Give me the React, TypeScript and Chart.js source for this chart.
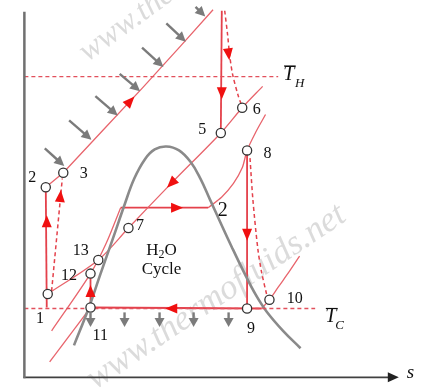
import React, { useEffect, useRef } from "react";
import { Chart, registerables } from "chart.js";

Chart.register(...registerables);

// Schematic T–s diagram (combined gas / H2O cycle). s grows to the right,
// T is plotted on a reversed axis (0 at the top of the frame).
const S_MAX = 429;
const T_MAX = 392;

// H2O saturation dome
const domeS = [70, 85, 97, 110, 122, 132, 143, 153, 165, 178, 190, 200, 210, 220, 232, 245, 257, 268, 285, 303];
const domeT = [350, 312, 277, 240, 205, 178, 158, 148, 145, 149, 161, 178, 200, 222, 248, 275, 298, 315, 335, 353];

// gas cycle
const gasHighS = [41, 59, 100, 140, 180, 213];
const gasHighT = [187, 172, 128, 85, 41, 4];
const gasLowS = [43, 95, 126, 170, 221, 243, 264];
const gasLowT = [297, 262, 229, 183, 131, 105, 83];
const compIsoS = [42, 41];
const compIsoT = [311, 187];
const compActS = [47, 58];
const compActT = [294, 178];
const turbIsoS = [222, 221];
const turbIsoT = [5, 131];
const turbActS = [225, 228, 230, 233, 239, 243];
const turbActT = [5, 30, 50, 70, 93, 104];

// H2O cycle
const hpLiquidS = [47, 87, 103, 118];
const hpLiquidT = [335, 276, 245, 208];
const hpEvapS = [118, 208];
const hpEvapT = [208, 208];
const hpSuperS = [208, 222, 234, 243, 248, 257, 267];
const hpSuperT = [208, 197, 183, 167, 149, 130, 112];
const stTurbIsoS = [248, 248];
const stTurbIsoT = [149, 311];
const stTurbActS = [251, 254, 259, 263, 268];
const stTurbActT = [157, 200, 250, 275, 297];
const lpLiquidS = [45, 87];
const lpLiquidT = [367, 311];
const lpCondS = [87, 263];
const lpCondT = [311, 312];
const lpSuperS = [263, 271, 280, 292, 302];
const lpSuperT = [312, 303, 290, 273, 258];
const pumpS = [87, 87];
const pumpT = [311, 276];

// mean temperatures
const tHighS = [19, 280];
const tHighT = [73, 73];
const tLowS = [19, 318];
const tLowT = [312, 312];

// axes
const axisVS = [19, 19];
const axisVT = [6, 384];
const axisHS = [18, 396];
const axisHT = [383, 383];

// state points
const stateNames = ["1", "2", "3", "5", "6", "7", "8", "9", "10", "11", "12", "13"];
const stateS = [43, 41, 59, 221, 243, 126, 248, 248, 271, 87, 87, 95];
const stateT = [297, 187, 172, 131, 105, 229, 149, 312, 303, 311, 276, 262];
const labelS = [35, 27, 80, 202, 258, 138, 269, 252, 297, 97, 65, 77];
const labelT = [323, 177, 173, 128, 107, 227, 152, 333, 302, 340, 278, 253];

// process direction arrowheads (centre + direction)
const redArrowS = [128, 42, 56, 170, 222, 229, 176, 248, 170, 87];
const redArrowT = [98, 222, 196, 183, 90, 50, 208, 236, 312, 294];
const redDirS = [1, 0, 0.08, -1, 0, 0.12, 1, 0, -1, 0];
const redDirT = [-1.08, -1, -1, 1, 1, 1, 0, 1, 0, -1];

// heat-in arrows (grey, onto the high-pressure gas line)
const heatInFromS = [40, 65, 92, 117, 140, 165, 195];
const heatInFromT = [147, 118, 93, 70, 43, 18, 1];
const heatInToS = [60, 88, 115, 138, 162, 185, 205];
const heatInToT = [165, 138, 113, 88, 63, 37, 11];
// heat-out arrows (grey, down from the condenser)
const heatOutS = [87, 122, 158, 193, 229];
const heatOutTopT = 316;
const heatOutTipT = 331;

const pts = (s: number[], t: number[]) => s.map((v, i) => ({ x: v, y: t[i] }));

const RED = "#e4414b";
const RED_THIN = "#e8646c";
const SERIF = "'Liberation Serif','Times New Roman','DejaVu Serif',serif";

function head(ctx: CanvasRenderingContext2D, x: number, y: number, ang: number, len: number, hw: number) {
  const c = Math.cos(ang), s = Math.sin(ang);
  ctx.beginPath();
  ctx.moveTo(x, y);
  ctx.lineTo(x - len * c + hw * s, y - len * s - hw * c);
  ctx.lineTo(x - len * c - hw * s, y - len * s + hw * c);
  ctx.closePath();
  ctx.fill();
}

const overlay = {
  id: "overlay",
  beforeDatasetsDraw(chart: any) {
    const { ctx, scales } = chart;
    const X = (v: number) => scales.x.getPixelForValue(v);
    const Y = (v: number) => scales.y.getPixelForValue(v);
    ctx.save();
    ctx.fillStyle = "rgba(170,170,170,0.42)";
    ctx.textBaseline = "alphabetic";
    ctx.textAlign = "left";
    const marks: [number, number, number, number][] = [
      [84, 58, -36, 32],
      [92, 396, -34, 35],
    ];
    for (const [s, t, deg, size] of marks) {
      ctx.save();
      ctx.font = `italic ${size}px ${SERIF}`;
      ctx.translate(X(s), Y(t));
      ctx.rotate((deg * Math.PI) / 180);
      ctx.fillText("www.thermofluids.net", 0, 0);
      ctx.restore();
    }
    ctx.restore();
  },
  afterDatasetsDraw(chart: any) {
    const { ctx, scales } = chart;
    const X = (v: number) => scales.x.getPixelForValue(v);
    const Y = (v: number) => scales.y.getPixelForValue(v);
    ctx.save();

    // grey heat arrows
    ctx.strokeStyle = "#7b7b7b";
    ctx.fillStyle = "#7b7b7b";
    ctx.lineWidth = 2.4;
    heatInFromS.forEach((s0, i) => {
      const x0 = X(s0), y0 = Y(heatInFromT[i]);
      const x1 = X(heatInToS[i]), y1 = Y(heatInToT[i]);
      const ang = Math.atan2(y1 - y0, x1 - x0);
      ctx.beginPath();
      ctx.moveTo(x0, y0);
      ctx.lineTo(x1 - 7 * Math.cos(ang), y1 - 7 * Math.sin(ang));
      ctx.stroke();
      head(ctx, x1, y1, ang, 10, 5);
    });
    heatOutS.forEach((s0) => {
      const x = X(s0);
      ctx.beginPath();
      ctx.moveTo(x, Y(heatOutTopT));
      ctx.lineTo(x, Y(heatOutTipT) - 6);
      ctx.stroke();
      head(ctx, x, Y(heatOutTipT), Math.PI / 2, 9, 5);
    });

    // red process arrowheads
    ctx.fillStyle = "#f01010";
    redArrowS.forEach((s0, i) => {
      const cx = X(s0), cy = Y(redArrowT[i]);
      const dx = X(s0 + redDirS[i]) - cx, dy = Y(redArrowT[i] + redDirT[i]) - cy;
      const ang = Math.atan2(dy, dx);
      head(ctx, cx + 6 * Math.cos(ang), cy + 6 * Math.sin(ang), ang, 12, 5);
    });

    // s-axis arrowhead
    ctx.fillStyle = "#222";
    head(ctx, X(404), Y(383), 0, 11, 5);

    // state labels
    ctx.fillStyle = "#111";
    ctx.textAlign = "center";
    ctx.textBaseline = "middle";
    ctx.font = `16px ${SERIF}`;
    stateNames.forEach((n, i) => ctx.fillText(n, X(labelS[i]), Y(labelT[i])));
    ctx.font = `20px ${SERIF}`;
    ctx.fillText("2", X(223), Y(211));

    // H2O Cycle
    ctx.font = `17px ${SERIF}`;
    ctx.textAlign = "left";
    const wH = ctx.measureText("H").width;
    const wO = ctx.measureText("O").width;
    ctx.font = `12px ${SERIF}`;
    const w2 = ctx.measureText("2").width;
    const x = X(160) - (wH + w2 + wO) / 2;
    const yb = Y(252);
    ctx.font = `17px ${SERIF}`;
    ctx.fillText("H", x, yb);
    ctx.font = `12px ${SERIF}`;
    ctx.fillText("2", x + wH, yb + 5);
    ctx.font = `17px ${SERIF}`;
    ctx.fillText("O", x + wH + w2, yb);
    ctx.textAlign = "center";
    ctx.fillText("Cycle", X(160), Y(272));

    // mean temperature labels
    const tbar = (s: number, t: number, sub: string, subDx: number) => {
      ctx.font = `italic 20px ${SERIF}`;
      ctx.textAlign = "center";
      ctx.fillText("T", X(s), Y(t));
      ctx.strokeStyle = "#111";
      ctx.lineWidth = 1.2;
      ctx.beginPath();
      ctx.moveTo(X(s - 5), Y(t - 9));
      ctx.lineTo(X(s + 7), Y(t - 9));
      ctx.stroke();
      ctx.font = `italic 13px ${SERIF}`;
      ctx.fillText(sub, X(s + subDx), Y(t + 9));
    };
    tbar(291, 71, "H", 11);
    tbar(334, 321, "C", 9);

    ctx.font = `italic 19px ${SERIF}`;
    ctx.fillText("s", X(416), Y(378));
    ctx.restore();
  },
};

export default function App() {
  const ref = useRef<HTMLCanvasElement | null>(null);
  useEffect(() => {
    document.body.style.margin = "0";
    if (!ref.current) return;
    const line = (s: number[], t: number[], color: string, width: number, extra: any = {}) => ({
      type: "line" as const,
      data: pts(s, t),
      borderColor: color,
      borderWidth: width,
      pointRadius: 0,
      showLine: true,
      fill: false,
      tension: 0,
      order: 2,
      ...extra,
    });
    const dash = { borderDash: [4, 3] };
    const chart = new Chart(ref.current, {
      type: "scatter",
      data: {
        datasets: [
          {
            type: "scatter",
            data: pts(stateS, stateT),
            pointRadius: 4.6,
            pointBackgroundColor: "#ffffff",
            pointBorderColor: "#333333",
            pointBorderWidth: 1.3,
            order: 0,
          } as any,
          line(axisVS, axisVT, "#707070", 2.5),
          line(axisHS, axisHT, "#404040", 1.6),
          line(tHighS, tHighT, "#e2505c", 1.3, dash),
          line(tLowS, tLowT, "#e2505c", 1.3, dash),
          line(domeS, domeT, "#8a8a8a", 2.6, { tension: 0.4 }),
          line(gasHighS, gasHighT, RED_THIN, 1.3),
          line(gasLowS, gasLowT, RED_THIN, 1.3, { tension: 0.3 }),
          line(compIsoS, compIsoT, RED, 1.8),
          line(compActS, compActT, RED, 1.5, dash),
          line(turbIsoS, turbIsoT, RED, 1.8),
          line(turbActS, turbActT, RED, 1.5, { ...dash, tension: 0.3 }),
          line(hpLiquidS, hpLiquidT, RED_THIN, 1.3, { tension: 0.3 }),
          line(hpEvapS, hpEvapT, RED, 1.8),
          line(hpSuperS, hpSuperT, RED_THIN, 1.3, { tension: 0.3 }),
          line(stTurbIsoS, stTurbIsoT, RED, 1.8),
          line(stTurbActS, stTurbActT, RED, 1.5, { ...dash, tension: 0.3 }),
          line(lpLiquidS, lpLiquidT, RED_THIN, 1.3),
          line(lpCondS, lpCondT, RED, 2),
          line(lpSuperS, lpSuperT, RED_THIN, 1.3, { tension: 0.3 }),
          line(pumpS, pumpT, RED, 1.8),
        ],
      },
      options: {
        animation: false,
        responsive: true,
        maintainAspectRatio: false,
        events: [],
        layout: { padding: 0 },
        plugins: { legend: { display: false }, tooltip: { enabled: false } },
        scales: {
          x: { type: "linear", min: 0, max: S_MAX, display: false },
          y: { type: "linear", min: 0, max: T_MAX, reverse: true, display: false },
        },
      },
      plugins: [overlay],
    });
    return () => chart.destroy();
  }, []);
  return (
    <div style={{ width: 429, height: 392, position: "relative", background: "#fff" }}>
      <canvas ref={ref} />
    </div>
  );
}
